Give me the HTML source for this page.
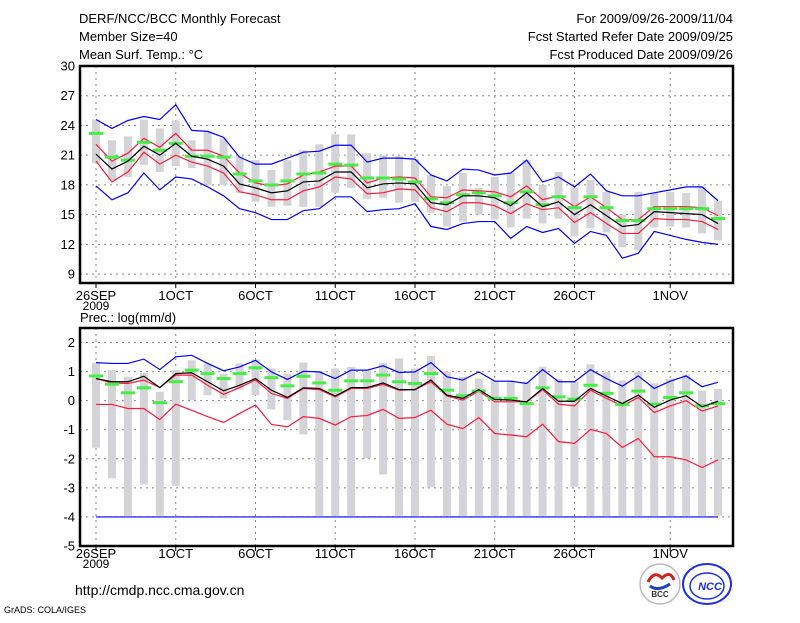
<!DOCTYPE html>
<html><head><meta charset="utf-8">
<style>
html,body{margin:0;padding:0;background:#fff;}
body{width:800px;height:618px;overflow:hidden;font-family:"Liberation Sans",sans-serif;}
svg text{font-family:"Liberation Sans",sans-serif;}
</style></head>
<body>
<svg id="chart" width="800" height="618" viewBox="0 0 800 618" xmlns="http://www.w3.org/2000/svg">
<rect x="0" y="0" width="800" height="618" fill="#fff"/>
<g font-size="13" fill="#000">
<text x="79" y="23">DERF/NCC/BCC Monthly Forecast</text>
<text x="79" y="41">Member Size=40</text>
<text x="79" y="59">Mean Surf. Temp.: °C</text>
<text x="733" y="23" text-anchor="end">For 2009/09/26-2009/11/04</text>
<text x="733" y="41" text-anchor="end">Fcst Started Refer Date 2009/09/25</text>
<text x="733" y="59" text-anchor="end">Fcst Produced Date 2009/09/26</text>
<text x="80" y="322">Prec.: log(mm/d)</text>
<text x="75" y="595" font-size="14">http://cmdp.ncc.cma.gov.cn</text>
<text x="4" y="613" font-size="9">GrADS: COLA/IGES</text>
</g>
<g id="top"></g>
<g id="bot"></g>
<g>
<circle cx="660" cy="584" r="20" fill="#fff" stroke="#bbb" stroke-width="1.5"/>
<path d="M648 582 q6 -12 14 -4 q8 -8 12 2" fill="none" stroke="#d02020" stroke-width="3"/>
<path d="M650 586 q8 6 20 -2" fill="none" stroke="#2040c0" stroke-width="3"/>
<text x="660" y="597" font-size="8" font-weight="bold" text-anchor="middle" fill="#333">BCC</text>
</g>
<g>
<ellipse cx="707" cy="584" rx="24" ry="20" fill="#fff" stroke="#2030e0" stroke-width="2"/>
<ellipse cx="707" cy="586" rx="17" ry="13" fill="none" stroke="#2030e0" stroke-width="1.5"/>
<text x="710" y="590" font-size="11" font-weight="bold" font-style="italic" text-anchor="middle" fill="#2030e0">NCC</text>
</g>
</svg>
<script>
const dateLabels = ["26SEP","1OCT","6OCT","11OCT","16OCT","21OCT","26OCT","1NOV"];
const dateIdx = [0,5,10,15,20,25,30,36];
// Temperature panel data (40 days)
const tMean = [21.1,19.6,20.4,21.9,21.0,22.2,20.9,20.6,19.9,18.1,17.7,17.2,17.4,18.3,18.4,19.3,19.3,17.7,18.1,18.2,18.1,16.2,16.0,16.9,16.9,16.7,15.9,17.2,15.8,16.3,15.0,16.0,14.9,13.8,14.0,15.3,15.2,15.1,15.0,14.1];
const tRedHi = [22.1,20.4,21.2,22.7,21.8,23.2,21.5,21.5,20.9,19.2,18.2,17.9,18.1,19.0,19.3,19.9,19.9,18.2,18.7,18.8,18.7,16.8,16.7,17.5,17.4,17.3,16.8,17.9,16.5,16.9,15.8,16.8,15.7,14.5,14.5,15.8,15.8,15.8,15.7,14.9];
const tRedLo = [20.4,18.3,19.3,21.3,20.1,21.0,20.3,19.9,19.2,17.3,17.0,16.5,16.5,17.4,17.8,18.8,18.6,17.1,17.2,17.6,17.5,15.7,15.3,16.2,16.2,15.9,15.1,16.1,15.5,15.7,14.2,15.2,14.1,13.1,13.1,14.6,14.5,14.5,14.3,13.5];
const tMax = [24.6,23.7,24.5,24.9,24.6,26.1,23.5,23.4,22.8,20.8,20.1,20.1,20.7,21.3,21.4,22.0,22.0,20.3,20.7,20.7,20.6,19.0,18.4,19.6,19.5,19.0,19.2,20.5,18.3,18.8,17.8,19.1,17.4,16.9,16.9,17.2,17.5,17.8,17.8,16.4];
const tMin = [17.9,16.5,17.2,19.2,17.5,18.8,18.6,17.8,16.9,15.6,15.2,14.5,14.5,15.4,15.6,16.8,16.8,15.3,15.5,15.6,16.1,13.8,13.5,14.1,14.3,14.3,12.6,13.8,13.2,13.6,12.1,13.3,12.9,10.6,11.1,13.3,12.9,12.5,12.2,12.0];
const tObs = [23.2,20.8,20.5,22.3,21.5,22.2,20.9,20.9,20.8,19.1,18.4,18.0,18.4,19.1,19.2,20.1,20.0,18.7,18.7,18.6,18.3,16.6,16.2,17.0,17.2,16.9,16.2,17.3,16.0,16.8,15.7,16.8,15.7,14.4,14.4,15.6,15.6,15.6,15.6,14.6];
const tBarHi = [24.6,22.5,22.9,24.6,23.7,24.5,22.5,23.4,22.7,20.9,20.5,19.5,20.5,21.5,22.1,23.1,23.1,21.2,21.0,20.9,20.6,19.0,17.9,19.2,17.7,18.8,19.2,20.5,18.0,19.3,17.7,18.5,17.3,15.0,17.3,17.2,17.3,17.2,17.8,16.4];
const tBarLo = [20.2,18.5,18.8,20.0,19.3,19.9,19.7,18.0,18.0,17.2,16.3,15.8,15.9,15.8,15.8,17.2,17.7,16.6,16.7,16.2,16.3,15.2,13.8,14.3,15.0,14.5,13.7,14.6,14.1,14.6,12.8,13.6,13.2,11.7,11.4,13.7,13.8,13.7,13.1,12.4];
const tTicks = [9,12,15,18,21,24,27,30];
// Precipitation panel data
const pMean = [0.76,0.65,0.65,0.84,0.45,0.93,0.96,0.65,0.34,0.53,0.76,0.36,0.11,0.44,0.42,0.16,0.45,0.45,0.61,0.38,0.38,0.71,0.19,0.08,0.38,0.04,0.02,-0.04,0.42,-0.02,-0.02,0.42,0.16,-0.10,0.19,-0.23,0.02,0.17,-0.21,-0.02];
const pRedHi = [0.76,0.61,0.59,0.71,0.45,0.88,0.88,0.53,0.22,0.45,0.71,0.25,0.08,0.42,0.38,0.13,0.42,0.42,0.56,0.36,0.38,0.65,0.16,0.02,0.33,-0.04,-0.04,-0.04,0.38,-0.12,-0.18,0.36,0.08,-0.18,0.11,-0.41,-0.18,0.0,-0.36,-0.18];
const pRedLo = [-0.13,-0.13,-0.27,-0.27,-0.65,-0.12,-0.33,-0.55,-0.75,-0.44,-0.15,-0.82,-0.90,-0.55,-0.61,-0.84,-0.55,-0.51,-0.30,-0.61,-0.58,-0.33,-0.81,-0.96,-0.58,-1.13,-1.18,-1.24,-0.81,-1.41,-1.47,-0.99,-1.13,-1.61,-1.30,-1.93,-1.93,-2.04,-2.30,-2.04];
const pMax = [1.31,1.28,1.28,1.43,1.07,1.51,1.56,1.28,1.03,1.16,1.39,0.99,0.73,1.01,0.99,0.76,1.05,1.05,1.20,0.97,0.99,1.31,0.82,0.71,0.99,0.67,0.67,0.59,1.07,0.65,0.65,1.07,0.76,0.50,0.85,0.42,0.67,0.85,0.48,0.63];
const pMin = [-4,-4,-4,-4,-4,-4,-4,-4,-4,-4,-4,-4,-4,-4,-4,-4,-4,-4,-4,-4,-4,-4,-4,-4,-4,-4,-4,-4,-4,-4,-4,-4,-4,-4,-4,-4,-4,-4,-4,-4];
const pObs = [0.85,0.57,0.27,0.44,-0.07,0.65,1.05,0.93,0.76,0.93,1.13,0.79,0.51,0.84,0.61,0.36,0.68,0.68,0.88,0.65,0.59,0.93,0.36,0.17,0.33,0.08,0.08,-0.10,0.44,0.13,0.05,0.53,0.25,-0.13,0.33,-0.12,0.11,0.27,-0.18,-0.10];
const pBarHi = [1.30,1.05,0.82,0.96,0.30,1.05,1.39,1.28,0.93,1.28,1.42,1.11,0.93,1.31,1.0,1.11,1.16,1.05,1.30,1.45,1.11,1.54,1.0,0.82,0.76,0.70,0.70,0.65,1.17,0.75,0.65,1.25,1.0,0.70,1.0,0.60,0.75,0.90,0.35,0.40];
const pBarLo = [-1.62,-2.67,-3.96,-2.88,-3.96,-2.93,0.02,0.19,0.08,0.38,0.19,-0.30,-0.67,-1.16,-3.96,-3.96,-3.96,-1.99,-2.54,-3.96,-3.96,-2.98,-3.96,-3.96,-3.96,-3.96,-3.96,-3.96,-3.96,-3.96,-2.96,-3.96,-3.96,-3.96,-3.96,-3.96,-3.96,-3.96,-3.96,-3.96];
const pTicks = [-5,-4,-3,-2,-1,0,1,2];

const NS='http://www.w3.org/2000/svg';
const X0=80, X1=733;
function xs(i){return 96+i*15.95;}
function mk(parent,tag,attrs){const e=document.createElementNS(NS,tag);for(const k in attrs)e.setAttribute(k,attrs[k]);parent.appendChild(e);return e;}

function panel(g,top,bottom,vmin,vmax,ticks,series,labY){
  const ys=v=>bottom-(v-vmin)/(vmax-vmin)*(bottom-top);
  ticks.forEach(t=>{
    const y=ys(t);
    if(t>vmin && t<vmax){
      const l=mk(g,'line',{x1:X0,x2:X1,y1:y,y2:y,stroke:'#888','stroke-dasharray':'2,4','stroke-width':1});
      
      
    }
    const tx=mk(g,'text',{x:75,y:y+4.5,'font-size':13,'text-anchor':'end'});
    tx.textContent=t;
    
    
  });
  dateIdx.forEach((d,k)=>{
    const x=xs(d);
    const l=mk(g,'line',{x1:x,x2:x,y1:top,y2:bottom,stroke:'#888','stroke-dasharray':'2,4','stroke-width':1});
    
    
    const tk=mk(g,'line',{x1:x,x2:x,y1:bottom,y2:bottom+5,stroke:'#000'});
    
    
    const tx=mk(g,'text',{x:x,y:labY,'font-size':13,'text-anchor':'middle'});
    tx.textContent=dateLabels[k];
    
    
  });
  const yr=mk(g,'text',{x:xs(0),y:labY+10,'font-size':12,'text-anchor':'middle'});
  yr.textContent='2009';
  
  
  series.barHi.forEach((h,i)=>{
    const lo=series.barLo[i];
    const r=mk(g,'rect',{x:xs(i)-4,y:ys(h),width:8,height:Math.max(1,ys(lo)-ys(h)),fill:'#d4d4d8'});
    
    
  });
  function line(arr,color,name){
    const p=mk(g,'polyline',{points:arr.map((v,i)=>xs(i)+','+ys(v)).join(' '),fill:'none',stroke:color,'stroke-width':1.2});
    
    
  }
  line(series.max,'#0000ff','max-line');
  line(series.min,'#0000ff','min-line');
  line(series.redHi,'#ff1a3c','upper-spread-line');
  line(series.redLo,'#ff1a3c','lower-spread-line');
  series.obs.forEach((v,i)=>{
    const r=mk(g,'rect',{x:xs(i)-7,y:ys(v)-1.5,width:14,height:3,fill:'#44ee44'});
    
    
  });
  line(series.mean,'#000','ensemble-mean-line');
  const fr=mk(g,'rect',{x:X0,y:top,width:X1-X0,height:bottom-top,fill:'none',stroke:'#000','stroke-width':2.5});
  
  
}
panel(document.getElementById('top'),66,283,8.1,30,tTicks,
  {mean:tMean,redHi:tRedHi,redLo:tRedLo,max:tMax,min:tMin,obs:tObs,barHi:tBarHi,barLo:tBarLo},300);
panel(document.getElementById('bot'),328,546,-5,2.5,pTicks,
  {mean:pMean,redHi:pRedHi,redLo:pRedLo,max:pMax,min:pMin,obs:pObs,barHi:pBarHi,barLo:pBarLo},558);
</script>
</body></html>
